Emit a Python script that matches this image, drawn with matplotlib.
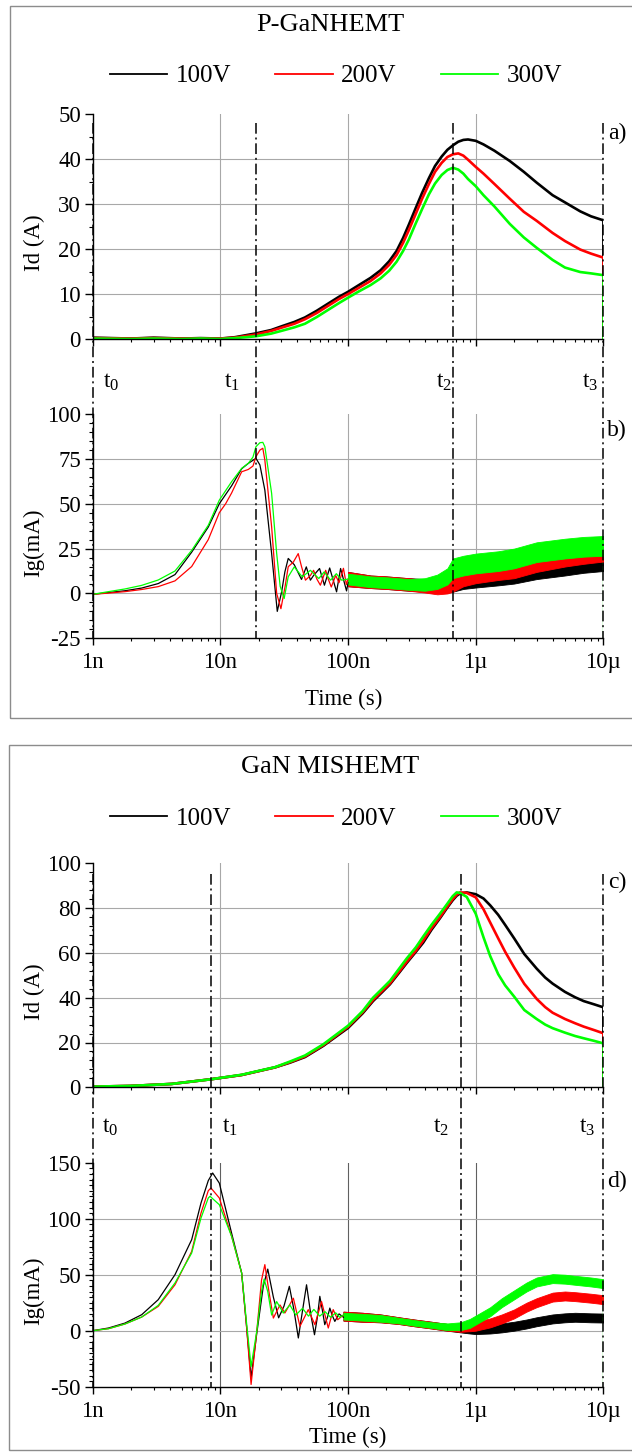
import matplotlib
matplotlib.use('Agg')
import matplotlib.pyplot as plt
from matplotlib.lines import Line2D
from matplotlib.patches import Rectangle
from matplotlib import transforms
from matplotlib.ticker import FixedLocator, LogLocator, NullFormatter, MultipleLocator

plt.rcParams['font.family'] = ['Liberation Serif', 'DejaVu Serif']
plt.rcParams['mathtext.fontset'] = 'custom'
plt.rcParams['mathtext.rm'] = 'Liberation Serif'

# ---------------- data (time in ns) ----------------
series_labels = ['100V', '200V', '300V']
series_colors = ['#000000', '#ff0000', '#00ff00']
x_ticks = [1, 10, 100, 1000, 10000]
x_tick_labels = ['1n', '10n', '100n', '1\u00b5', '10\u00b5']

# panel a : P-GaN HEMT, Id (A)
t_a = [1, 2, 3, 5, 7, 10, 13, 19, 25, 30, 38, 46, 57, 70, 85, 100, 120, 150, 180, 210, 240, 270, 300,
       335, 380, 430, 480, 541, 600, 663, 730, 800, 870, 1000, 1150, 1400, 1850, 2380, 3000, 4000,
       5000, 6590, 8000, 10000, 10000]
id_a_100 = [0.3, 0.1, 0.3, 0.1, 0.2, 0.1, 0.4, 1.25, 2.0, 2.8, 3.8, 4.8, 6.3, 7.9, 9.4, 10.5, 11.9, 13.6,
            15.3, 17.3, 19.6, 22.5, 25.5, 28.8, 32.5, 35.8, 38.5, 40.6, 42.1, 43.1, 43.9, 44.3, 44.4,
            44.1, 43.3, 41.9, 39.6, 37.2, 34.8, 32.0, 30.4, 28.4, 27.3, 26.4, 0]
id_a_200 = [0.2, 0.1, 0.2, 0.1, 0.1, 0.1, 0.3, 1.0, 1.8, 2.5, 3.4, 4.4, 5.8, 7.4, 8.9, 10.0, 11.3, 12.9,
            14.6, 16.5, 18.7, 21.4, 24.3, 27.5, 31.2, 34.5, 37.2, 39.2, 40.5, 41.1, 41.3, 40.8, 39.9,
            38.3, 36.8, 34.5, 31.2, 28.3, 26.3, 23.6, 21.8, 19.9, 19.0, 18.1, 0]
id_a_300 = [0.1, 0.0, 0.1, 0.0, 0.1, 0.0, 0.2, 0.6, 1.2, 1.8, 2.6, 3.4, 4.9, 6.5, 8.0, 9.2, 10.5, 12.0,
            13.5, 15.2, 17.2, 19.6, 22.2, 25.4, 28.9, 32.2, 34.6, 36.5, 37.6, 38.1, 37.7, 36.8, 35.6,
            34.0, 32.0, 29.5, 25.6, 22.6, 20.3, 17.6, 15.9, 14.9, 14.6, 14.2, 0]

# panel b : P-GaN HEMT, Ig (mA) - clean part
t_b_100 = [1.0, 1.33, 1.79, 2.42, 3.26, 4.41, 5.96, 8.04, 9.81, 12.25, 14.68, 16.55, 19.0, 20.4, 22.3, 25.2,
           27.9, 30.2, 32.0, 34.0, 37.9, 43.2, 47.1, 50.7, 53.7, 59.8, 65.3, 71.8, 81.3, 87.4, 97.3, 100]
ig_b_100 = [-0.5, 0.5, 1.5, 3.0, 5.5, 10.5, 23.0, 37.0, 50.0, 60.0, 69.5, 72.5, 75.3, 71.6, 57.6, 22.3,
            -10.0, 1.0, 12.0, 19.5, 16.0, 7.8, 14.8, 7.4, 10.0, 13.9, 4.6, 14.2, 0.9, 13.9, 1.4, 6.0]
t_b_200 = [1.0, 1.33, 1.79, 2.42, 3.26, 4.41, 5.96, 8.04, 9.81, 11.0, 12.25, 14.68, 16.55, 18.0, 19.0, 20.4,
           21.5, 22.3, 25.2, 27.6, 29.8, 32.1, 34.0, 37.3, 40.7, 43.2, 46.4, 50.7, 53.7, 57.0, 60.7, 66.8,
           70.0, 73.9, 80.0, 85.0, 92.0, 97.0, 100]
ig_b_200 = [-0.5, 0.2, 1.0, 2.2, 3.8, 7.0, 15.0, 30.0, 45.0, 50.0, 56.0, 67.8, 69.1, 71.0, 76.2, 79.9,
            80.9, 74.3, 37.2, 0.0, -8.5, 3.7, 14.9, 17.5, 22.2, 15.0, 7.4, 10.0, 12.9, 8.0, 4.6, 12.9,
            8.0, 3.6, 10.0, 6.0, 14.0, 5.0, 8.0]
t_b_300 = [1.0, 1.33, 1.79, 2.42, 3.26, 4.41, 5.96, 8.04, 9.81, 12.25, 14.68, 16.55, 18.0, 19.0, 20.4, 21.5,
           22.3, 25.2, 27.6, 29.4, 31.6, 34.0, 37.9, 43.8, 50.7, 59.0, 65.0, 73.0, 81.0, 89.0, 100]
ig_b_300 = [-0.5, 1.0, 2.5, 4.5, 7.5, 12.5, 24.0, 38.0, 52.0, 62.3, 69.7, 72.5, 76.0, 81.8, 84.0, 84.2,
            81.8, 55.8, 22.3, 4.0, -2.8, 9.3, 14.8, 9.2, 12.9, 8.3, 12.0, 7.4, 11.0, 7.4, 8.0]
# panel b : noisy part (envelope of the noise)
t_b_band = [100, 150, 200, 300, 400, 500, 600, 663, 800, 1000, 1500, 2000, 3000, 5000, 7000, 10000]
ig_b_100_lo = [4, 3, 2.5, 1.5, 1, 0.5, 0.5, 1, 2.5, 3.3, 4.5, 5.5, 8, 10, 11.5, 12.5]
ig_b_100_hi = [12, 10, 9.5, 8.5, 8, 7.5, 7.5, 8, 9.5, 10.3, 11.5, 12.5, 15, 17, 18.5, 19.5]
ig_b_200_lo = [4, 3, 2.5, 1.5, 0.5, -0.5, 0, 1, 4, 5.7, 7.5, 8.5, 12, 15, 16.5, 17.8]
ig_b_200_hi = [12, 10, 9.5, 8.5, 7.5, 6.5, 7, 9, 12, 13.7, 15.5, 16.5, 20, 23, 24.5, 25.8]
ig_b_300_lo = [5, 3.5, 3, 2, 1.5, 2.5, 5, 8.5, 10, 11.2, 12.5, 14, 17.5, 19.5, 20.5, 21]
ig_b_300_hi = [11, 9.5, 9, 8, 8.5, 10.5, 14, 19.5, 21, 22.2, 23.5, 25, 28.5, 30.5, 31.5, 32]
t_b_end = [10000, 10000]
ig_b_300_end = [26.5, -30]

# panel c : GaN MIS-HEMT, Id (A)
t_c = [1, 1.96, 4.15, 8.47, 14.7, 26.8, 35.1, 46, 64, 100, 130, 157, 185, 213, 250, 288, 340, 388, 450,
       525, 600, 660, 709, 752, 850, 1000, 1150, 1300, 1500, 1700, 2000, 2400, 3000, 3500, 4000, 5000,
       6000, 7000, 8500, 10000, 10000]
id_c_100 = [0.3, 0.6, 1.5, 3.6, 5.5, 8.9, 11.0, 13.5, 18.5, 26.5, 33.0, 38.5, 42.5, 46.0, 51.0, 55.5,
            60.5, 64.6, 70.3, 75.5, 80.3, 83.5, 85.5, 86.5, 87.0, 86.2, 84.3, 81.2, 77.0, 72.5, 66.5,
            59.5, 53.0, 49.0, 46.3, 42.6, 40.2, 38.5, 37.0, 35.7, 0]
id_c_200 = [0.3, 0.6, 1.5, 3.6, 5.5, 8.9, 11.2, 13.8, 18.8, 27.0, 33.5, 39.0, 43.0, 46.4, 51.5, 56.0,
            61.0, 65.5, 71.0, 76.0, 80.8, 84.0, 86.0, 87.0, 86.8, 84.8, 79.5, 73.5, 66.5, 60.5, 53.5,
            46.2, 39.5, 35.8, 33.3, 30.5, 28.6, 27.1, 25.5, 24.1, 0]
id_c_300 = [0.3, 0.6, 1.5, 3.6, 5.6, 9.0, 11.5, 14.2, 19.2, 27.5, 34.0, 40.0, 44.0, 47.5, 52.8, 57.5,
            62.5, 67.3, 72.5, 77.5, 82.0, 85.3, 87.0, 86.8, 85.0, 77.5, 67.0, 58.5, 50.5, 45.5, 40.5,
            34.5, 30.5, 28.0, 26.4, 24.4, 22.9, 21.9, 20.7, 19.6, 0]

# panel d : GaN MIS-HEMT, Ig (mA) - clean part
t_d_100 = [1, 1.33, 1.79, 2.42, 3.26, 4.41, 5.96, 7.05, 8.04, 8.7, 9.81, 12.25, 14.68, 16.0, 17.4, 19.3,
           21.7, 23.5, 26.0, 28.6, 31.5, 34.7, 37.5, 40.8, 44.0, 47.3, 51.0, 54.6, 57.5, 60.1, 63.0, 65.7,
           69.0, 72.0, 75.0, 78.8, 85.0, 92.0]
ig_d_100 = [0, 2.4, 6.8, 14.3, 27.7, 50, 81.3, 114, 134, 140.8, 131.8, 87, 51.5, 5, -42, -2,
            40, 55, 30, 11.5, 22, 39.6, 20, -6.5, 18, 41, 15, -3.6, 12, 30.7, 18, 5.4,
            12, 20.2, 14, 8.3, 15, 12]
t_d_200 = [1, 1.33, 1.79, 2.42, 3.26, 4.41, 5.96, 7.05, 8.04, 8.44, 9.81, 12.25, 14.68, 16.0, 17.4, 19.3,
           21.0, 22.3, 24.0, 26.0, 29.3, 32.0, 37.3, 42.0, 48.8, 55.0, 62.0, 70.0, 76.5, 83.0, 92.0]
ig_d_200 = [0, 1.8, 6, 12.2, 21.7, 41, 70.8, 105, 125, 127.4, 118.5, 84.2, 51.5, 5, -48, 0,
            45, 59, 35, 11.3, 23, 15.8, 29, 3.9, 18.8, 5.4, 26, 2.4, 18.8, 9.8, 14]
t_d_300 = [1, 1.33, 1.79, 2.42, 3.26, 4.41, 5.96, 7.05, 8.04, 8.3, 9.81, 12.25, 14.68, 16.0, 17.4, 19.3,
           21.0, 22.0, 23.5, 25.2, 27.6, 31.1, 35.0, 39.0, 44.0, 49.0, 54.0, 60.0, 66.0, 73.0, 80.0, 86.0, 92.0]
ig_d_300 = [0, 1.8, 6, 12.2, 22.6, 42.6, 69.3, 100.6, 118.5, 120, 112.5, 84.2, 51.5, 8, -32, 0,
            35, 46, 35, 14, 26, 15.8, 23, 14, 20, 13, 19, 13, 17, 12, 16, 12, 14]
# panel d : noisy part (envelope of the noise)
t_d_band = [92, 130, 180, 250, 330, 450, 600, 760, 900, 1000, 1300, 1600, 2000, 2500, 3000, 4000, 5000,
            6000, 8000, 10000]
ig_d_100_lo = [9, 8, 7.5, 6, 4, 2, 0, -1.5, -2.5, -3, -2.5, -1.5, 0, 2, 4, 6.5, 7.5, 8, 7.5, 7.3]
ig_d_100_hi = [17, 16, 14.5, 12, 10, 8, 6, 4.5, 4.5, 5, 5.5, 6.5, 8, 10, 12, 14.5, 15.5, 16, 15.5, 15.3]
ig_d_200_lo = [9, 8, 7.5, 6, 4, 2, 0, -1, -0.5, 0, 3, 6.5, 11, 17, 21, 26, 27, 26.4, 25, 23.7]
ig_d_200_hi = [17, 16, 14.5, 12, 10, 8, 6, 5, 6.5, 8, 11, 14.5, 19, 25, 29, 34, 35, 34.4, 33, 31.7]
ig_d_300_lo = [10, 9, 8, 6.5, 4.5, 2.5, 0.5, 0.5, 2.5, 5.5, 13, 21, 28, 35, 39.5, 42.5, 42, 41, 39.5, 38]
ig_d_300_hi = [16, 15, 14, 11.5, 9.5, 7.5, 6.5, 7.5, 10.5, 13.5, 21, 29, 36, 43, 47.5, 50.5, 50, 49, 47.5, 46]
t_d_end = [10000, 10000]
ig_d_300_end = [42, -50]

# switching instants t0..t3 (ns)
t_marks_pgan = [1, 19.0, 663, 10000]
t_marks_mis = [1, 8.47, 762, 10000]

# ---------------- figure ----------------
W, H = 632, 1452
fig = plt.figure(figsize=(W / 100, H / 100), dpi=100)
fig.patch.set_facecolor('white')


def fx(x):
    return x / W


def fy(y):
    return 1 - y / H


AX_L, AX_R = 92.7, 603.4
TICK_FS = 16.5
GRID_C = '#a8a8a8'


def make_axes(top_px, bottom_px):
    return fig.add_axes([fx(AX_L), fy(bottom_px), fx(AX_R - AX_L), (bottom_px - top_px) / H])


def style(ax, ylim, yticks, yminor, show_x, vgrid_c=GRID_C):
    ax.set_xscale('log')
    ax.set_xlim(x_ticks[0], x_ticks[-1])
    ax.set_ylim(*ylim)
    ax.set_facecolor('none')
    for s in ['top', 'right']:
        ax.spines[s].set_visible(False)
    for s in ['left', 'bottom']:
        ax.spines[s].set_linewidth(1.0)
    ax.set_yticks(yticks)
    ax.set_yticklabels([str(v) for v in yticks])
    ax.yaxis.set_minor_locator(MultipleLocator(yminor))
    ax.xaxis.set_major_locator(FixedLocator(x_ticks))
    ax.xaxis.set_minor_locator(LogLocator(base=10, subs=range(2, 10), numticks=20))
    ax.xaxis.set_minor_formatter(NullFormatter())
    if show_x:
        ax.set_xticklabels(x_tick_labels)
    else:
        ax.set_xticklabels([])
    ax.tick_params(which='major', direction='out', width=1.0, labelsize=TICK_FS)
    ax.tick_params(which='minor', direction='out', width=0.8)
    ax.tick_params(axis='y', which='major', length=6, pad=2.5)
    ax.tick_params(axis='y', which='minor', length=3)
    ax.tick_params(axis='x', which='major', length=5, pad=5)
    ax.tick_params(axis='x', which='minor', length=2.5)
    for v in x_ticks[1:-1]:
        ax.axvline(v, color=vgrid_c, lw=0.8, zorder=0)
    for v in yticks[1:-1]:
        ax.axhline(v, color=GRID_C, lw=0.8, zorder=0)


def tline(ax, t, y0, y1):
    tr = transforms.blended_transform_factory(ax.transData, fig.transFigure)
    fig.add_artist(Line2D([t, t], [fy(y0), fy(y1)], transform=tr, color='black', lw=1.1,
                          ls=(0, (7, 2.5, 1.3, 2.5))))


def frame(top, bottom, left):
    fig.add_artist(Rectangle((fx(left), fy(bottom)), 1.2, (bottom - top) / H, transform=fig.transFigure,
                             fill=False, ec='#8c8c8c', lw=1.0))


def legend(y):
    handles = [Line2D([], [], color=c, lw=1.3) for c in series_colors]
    fig.legend(handles, series_labels, loc='center', bbox_to_anchor=(fx(336), fy(y)), ncol=3,
               frameon=False, fontsize=18, handlelength=2.3, handletextpad=0.35, columnspacing=1.75,
               borderaxespad=0, borderpad=0)


# ---- panel 1 frame / title / legend
frame(6, 718, 10)
fig.text(fx(330), fy(25), 'P-GaNHEMT', ha='center', va='center', fontsize=19)
legend(76)

ax_a = make_axes(114.3, 339.0)
style(ax_a, (0, 50), [0, 10, 20, 30, 40, 50], 5, False)
for y, c in zip([id_a_100, id_a_200, id_a_300], series_colors):
    ax_a.plot(t_a, y, color=c, lw=1.9, solid_joinstyle='round')

ax_b = make_axes(414.0, 638.3)
style(ax_b, (-25, 100), [-25, 0, 25, 50, 75, 100], 5, True)
for t, y, lo, hi, c in zip([t_b_100, t_b_200, t_b_300], [ig_b_100, ig_b_200, ig_b_300],
                           [ig_b_100_lo, ig_b_200_lo, ig_b_300_lo], [ig_b_100_hi, ig_b_200_hi, ig_b_300_hi],
                           series_colors):
    ax_b.plot(t, y, color=c, lw=0.9)
    ax_b.fill_between(t_b_band, lo, hi, color=c, lw=0.6, ec=c)
ax_b.plot(t_b_end, ig_b_300_end, color=series_colors[2], lw=0.9)

for tm in t_marks_pgan:
    tline(ax_a, tm, 123, 638.3)

fig.text(fx(34), fy(243), 'Id (A)', rotation=90, ha='center', va='center', fontsize=16.5)
fig.text(fx(34), fy(543), 'Ig(mA)', rotation=90, ha='center', va='center', fontsize=16.5)
fig.text(fx(344), fy(699), 'Time (s)', ha='center', va='center', fontsize=16.5)
fig.text(fx(617), fy(133), 'a)', ha='center', va='center', fontsize=17)
fig.text(fx(617), fy(430), 'b)', ha='center', va='center', fontsize=17)
for lab, xp in zip(['t_0', 't_1', 't_2', 't_3'], [111, 232, 444, 590]):
    fig.text(fx(xp), fy(382), r'$\mathrm{' + lab + '}$', ha='center', va='center', fontsize=17)

# ---- panel 2 frame / title / legend
frame(745, 1450, 9)
fig.text(fx(330), fy(767), 'GaN MISHEMT', ha='center', va='center', fontsize=19)
legend(819)

ax_c = make_axes(863.3, 1087.3)
style(ax_c, (0, 100), [0, 20, 40, 60, 80, 100], 4, False)
for y, c in zip([id_c_100, id_c_200, id_c_300], series_colors):
    ax_c.plot(t_c, y, color=c, lw=1.9, solid_joinstyle='round')

ax_d = make_axes(1162.7, 1386.7)
style(ax_d, (-50, 150), [-50, 0, 50, 100, 150], 5, True, vgrid_c='#606060')
for t, y, lo, hi, c in zip([t_d_100, t_d_200, t_d_300], [ig_d_100, ig_d_200, ig_d_300],
                           [ig_d_100_lo, ig_d_200_lo, ig_d_300_lo], [ig_d_100_hi, ig_d_200_hi, ig_d_300_hi],
                           series_colors):
    ax_d.plot(t, y, color=c, lw=0.9)
    ax_d.fill_between(t_d_band, lo, hi, color=c, lw=0.6, ec=c)
ax_d.plot(t_d_end, ig_d_300_end, color=series_colors[2], lw=0.9)

for tm in t_marks_mis:
    tline(ax_c, tm, 874, 1386.7)

fig.text(fx(34), fy(992), 'Id (A)', rotation=90, ha='center', va='center', fontsize=16.5)
fig.text(fx(34), fy(1291), 'Ig(mA)', rotation=90, ha='center', va='center', fontsize=16.5)
fig.text(fx(348), fy(1437), 'Time (s)', ha='center', va='center', fontsize=16.5)
fig.text(fx(617), fy(882), 'c)', ha='center', va='center', fontsize=17)
fig.text(fx(617), fy(1181), 'd)', ha='center', va='center', fontsize=17)
for lab, xp in zip(['t_0', 't_1', 't_2', 't_3'], [110, 230, 441, 587]):
    fig.text(fx(xp), fy(1127), r'$\mathrm{' + lab + '}$', ha='center', va='center', fontsize=17)

fig.savefig('out.png', dpi=100, facecolor='white')
